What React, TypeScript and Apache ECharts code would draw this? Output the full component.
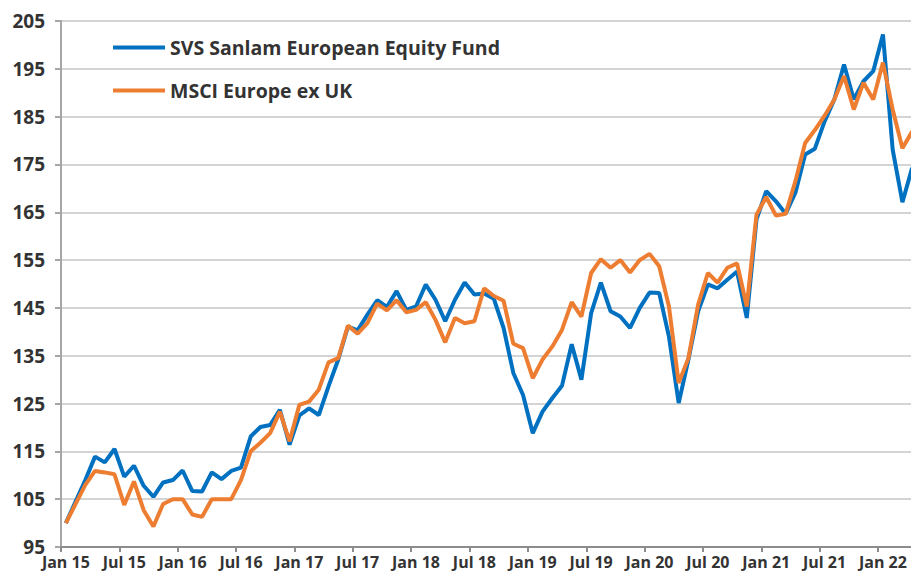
import React, { useEffect, useRef } from "react";
import * as echarts from "echarts";

const MONTHS = ["Jan", "Feb", "Mar", "Apr", "May", "Jun", "Jul", "Aug", "Sep", "Oct", "Nov", "Dec"];
const YEARS = ["15", "16", "17", "18", "19", "20", "21", "22"];
const MONTH_COUNT = 88; // Jan 15 .. Apr 22

const categories: string[] = [];
for (let i = 0; i < MONTH_COUNT; i++) {
  categories.push(MONTHS[i % 12] + " " + YEARS[Math.floor(i / 12)]);
}

const fundName = "SVS Sanlam European Equity Fund";
const indexName = "MSCI Europe ex UK";

const fundValues = [
  100, 104.5, 109, 113.9, 112.7, 115.5, 109.7, 112, 107.8, 105.5, 108.5, 109,
  111, 106.7, 106.6, 110.6, 109.2, 110.9, 111.6, 118.1, 120.1, 120.5, 123.7, 116.4,
  122.5, 124, 122.6, 128.6, 134.2, 141.1, 140.3, 143.6, 146.6, 145.2, 148.5, 144.6,
  145.3, 149.9, 146.7, 142.2, 146.7, 150.3, 147.8, 148, 146.9, 140.8, 131.4, 126.8,
  118.8, 123.3, 126.1, 128.7, 137.4, 130, 143.9, 150.3, 144.3, 143.2, 140.8, 145,
  148.2, 148.1, 139, 125.1, 134.2, 144.3, 149.9, 149.1, 150.9, 152.6, 142.9, 163.5,
  169.4, 167.3, 164.7, 169.1, 177.1, 178.3, 184, 188.6, 195.9, 188.6, 192.4, 194.5,
  202.2, 178.1, 167.1, 174.3,
];

const indexValues = [
  100, 104, 108, 110.9, 110.6, 110.2, 103.8, 108.7, 102.7, 99.3, 104, 105,
  105, 101.8, 101.3, 105, 105, 105, 109, 115, 116.8, 118.8, 123.3, 117.1,
  124.7, 125.4, 127.9, 133.6, 134.5, 141.3, 139.6, 141.8, 145.9, 144.5, 146.6, 144.1,
  144.6, 146.2, 142.5, 137.8, 142.9, 141.8, 142.2, 149.1, 147.5, 146.5, 137.5, 136.6,
  130.3, 134.2, 136.9, 140.4, 146.2, 143.2, 152.3, 155.2, 153.4, 155, 152.4, 155,
  156.3, 153.7, 145.3, 129.3, 134.5, 145.7, 152.3, 150.3, 153.4, 154.3, 145.3, 164.5,
  168.2, 164.3, 164.7, 171.5, 179.5, 182.2, 185.2, 188.6, 193.5, 186.5, 192.1, 188.6,
  196.3, 186.5, 178.4, 181.9,
];

const Y_MIN = 95;
const Y_MAX = 205;
const Y_STEP = 10;

const BLUE = "#0070C0";
const ORANGE = "#ED7D31";
const FONT = "'Open Sans', 'DejaVu Sans', sans-serif";

export default function App() {
  const ref = useRef<HTMLDivElement>(null);

  useEffect(() => {
    if (!ref.current) return;
    const chart = echarts.init(ref.current, null, { renderer: "svg" });
    chart.setOption({
      animation: false,
      backgroundColor: "#ffffff",
      grid: { left: 61, right: 0, top: 21, bottom: 25, containLabel: false },
      legend: {
        orient: "vertical",
        left: 113,
        top: 37,
        padding: 0,
        itemGap: 22,
        itemWidth: 52,
        itemHeight: 4,
        icon: "rect",
        textStyle: {
          fontFamily: FONT,
          fontWeight: "bold",
          fontSize: 19.5,
          lineHeight: 21,
          color: "#333333",
        },
        data: [fundName, indexName],
      },
      xAxis: {
        type: "category",
        data: categories,
        boundaryGap: true,
        axisLine: { lineStyle: { color: "#8c8c8c", width: 2 } },
        axisTick: { show: true, interval: 5, length: 5, lineStyle: { color: "#8c8c8c", width: 2 } },
        axisLabel: {
          interval: 5,
          margin: 7,
          fontFamily: FONT,
          fontWeight: "bold",
          fontSize: 16,
          lineHeight: 16,
          color: "#333333",
        },
        splitLine: { show: false },
      },
      yAxis: {
        type: "value",
        min: Y_MIN,
        max: Y_MAX,
        interval: Y_STEP,
        axisLine: { show: true, lineStyle: { color: "#a6a6a6", width: 2 } },
        axisTick: { show: true, length: 6, lineStyle: { color: "#a6a6a6", width: 2 } },
        axisLabel: {
          margin: 16,
          fontFamily: FONT,
          fontWeight: "bold",
          fontSize: 19,
          color: "#333333",
        },
        splitLine: { show: true, lineStyle: { color: "#c6c6c6", width: 1.5 } },
      },
      series: [
        {
          name: fundName,
          type: "line",
          data: fundValues,
          symbol: "none",
          color: BLUE,
          lineStyle: { width: 4, color: BLUE },
        },
        {
          name: indexName,
          type: "line",
          data: indexValues,
          symbol: "none",
          color: ORANGE,
          lineStyle: { width: 4, color: ORANGE },
        },
      ],
    });
    return () => chart.dispose();
  }, []);

  return (
    <div style={{ width: 911, height: 572, position: "absolute", left: 0, top: 0, overflow: "hidden" }}>
      <div ref={ref} style={{ width: 917, height: 572, position: "absolute", left: 0, top: 0 }} />
    </div>
  );
}
